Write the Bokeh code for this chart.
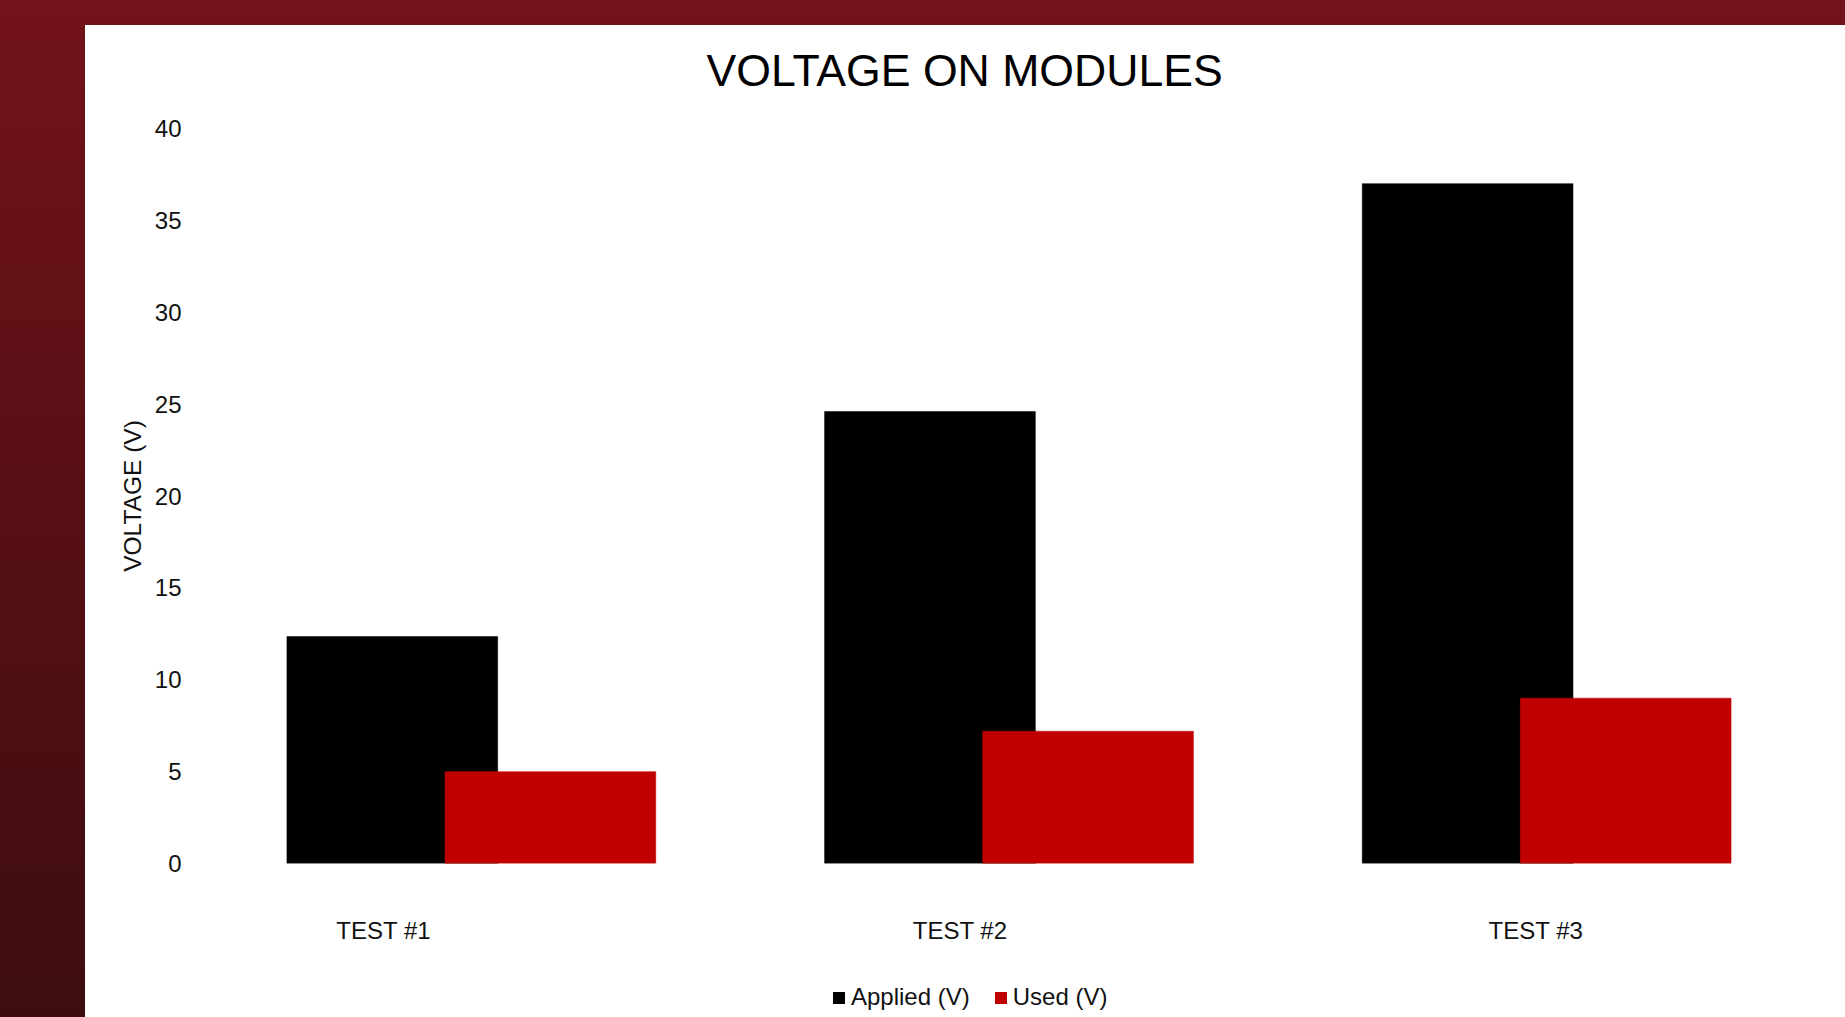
from bokeh.plotting import figure
from bokeh.models import Range1d, FixedTicker, Legend, LegendItem, ColumnDataSource, Title
from bokeh.layouts import column
from bokeh.embed import file_html
from bokeh.resources import INLINE

# ---- data ----
categories = ["TEST #1", "TEST #2", "TEST #3"]
applied = [12.35, 24.6, 37.0]
used = [5.0, 7.2, 9.0]
y_ticks = [0, 5, 10, 15, 20, 25, 30, 35, 40]
series_names = ["Applied (V)", "Used (V)"]
series_colors = ["#000000", "#C00000"]
chart_title = "VOLTAGE ON MODULES"

# ---- layout constants ----
BAR_W = 0.392
BAR_OFF = 0.147
LABEL_SHIFT = [-0.163, -0.091, -0.020]   # label offsets from category centre
FONT = "Liberation Sans"
W = 1760
H_TITLE = 88
H_CHART = 852
H_LEG = 52
WHITE = {"background-color": "white"}


def strip(height):
    f = figure(width=W, height=height, output_backend="svg", toolbar_location=None,
               x_range=Range1d(100, 101), y_range=Range1d(100, 101),
               x_axis_location=None, y_axis_location=None,
               min_border_left=0, min_border_right=0, min_border_top=0, min_border_bottom=0,
               styles=WHITE)
    f.outline_line_color = None
    f.grid.visible = False
    f.background_fill_color = "white"
    f.border_fill_color = "white"
    return f


idx = list(range(len(categories)))
src = ColumnDataSource(dict(
    x_app=[i - BAR_OFF for i in idx],
    x_used=[i + BAR_OFF for i in idx],
    applied=applied,
    used=used,
))

# ---- title strip ----
tf = strip(H_TITLE)
tf.add_layout(Title(text=chart_title, align="left", offset=504, standoff=34, vertical_align="top",
                    text_font=FONT, text_font_size="44.6px", text_font_style="normal",
                    text_color="#000000"), "below")

# ---- chart ----
p = figure(width=W, height=H_CHART, output_backend="svg", toolbar_location=None,
           x_range=Range1d(-0.5, len(categories) - 0.5), y_range=Range1d(0, 40),
           min_border_left=117, min_border_right=30, min_border_top=15, min_border_bottom=102,
           styles=WHITE)
p.outline_line_color = None
p.background_fill_color = "white"
p.border_fill_color = "white"
p.grid.visible = False

p.vbar(x="x_app", top="applied", width=BAR_W, source=src,
       fill_color=series_colors[0], line_color=series_colors[0], line_width=0.5)
p.vbar(x="x_used", top="used", width=BAR_W, source=src,
       fill_color=series_colors[1], line_color=series_colors[1], line_width=0.5)

# y axis
ya = p.yaxis[0]
ya.ticker = FixedTicker(ticks=y_ticks)
ya.axis_line_color = None
ya.major_tick_line_color = None
ya.minor_tick_line_color = None
ya.major_tick_out = 0
ya.major_tick_in = 0
ya.minor_tick_out = 0
ya.minor_tick_in = 0
ya.major_label_standoff = 21
ya.major_label_text_font = FONT
ya.major_label_text_font_size = "24px"
ya.major_label_text_color = "#111111"
ya.axis_label = "VOLTAGE (V)"
ya.axis_label_text_font = FONT
ya.axis_label_text_font_size = "24.5px"
ya.axis_label_text_font_style = "normal"
ya.axis_label_text_color = "#111111"
ya.axis_label_standoff = 6

# x axis
label_pos = [i + s for i, s in zip(idx, LABEL_SHIFT)]
xa = p.xaxis[0]
xa.ticker = FixedTicker(ticks=label_pos)
xa.major_label_overrides = {pos: cat for pos, cat in zip(label_pos, categories)}
xa.axis_line_color = None
xa.major_tick_line_color = None
xa.minor_tick_line_color = None
xa.major_tick_out = 0
xa.major_tick_in = 0
xa.minor_tick_out = 0
xa.minor_tick_in = 0
xa.major_label_standoff = 53
xa.major_label_text_font = FONT
xa.major_label_text_font_size = "24px"
xa.major_label_text_color = "#111111"

# ---- legend strip; its renderers lie outside its view ----
lf = strip(H_LEG)
l1 = lf.vbar(x="x_app", top="applied", width=BAR_W, source=src,
             fill_color=series_colors[0], line_color=series_colors[0], line_alpha=0)
l2 = lf.vbar(x="x_used", top="used", width=BAR_W, source=src,
             fill_color=series_colors[1], line_color=series_colors[1], line_alpha=0)
legend = Legend(items=[LegendItem(label=series_names[0], renderers=[l1], index=0),
                       LegendItem(label=series_names[1], renderers=[l2], index=0)],
                orientation="horizontal", location=(629, 6),
                glyph_width=15, glyph_height=15, label_standoff=5, spacing=23,
                padding=0, margin=0, border_line_color=None, background_fill_alpha=0,
                label_text_font=FONT, label_text_font_size="24px", label_text_color="#111111")
lf.add_layout(legend, "center")

layout = column(tf, p, lf, spacing=0, styles=WHITE)

html = file_html(layout, INLINE, title="Voltage on modules")
css = ("<style>html,body{margin:0;padding:0;overflow:hidden;}"
       "body{padding:25px 0 0 85px;height:1017px;box-sizing:border-box;"
       "background:linear-gradient(to bottom,#73131a 0%,#5a1015 45%,#3d0d0f 100%);}</style>")
html = html.replace("</head>", css + "</head>")
open("out.html", "w").write(html)
